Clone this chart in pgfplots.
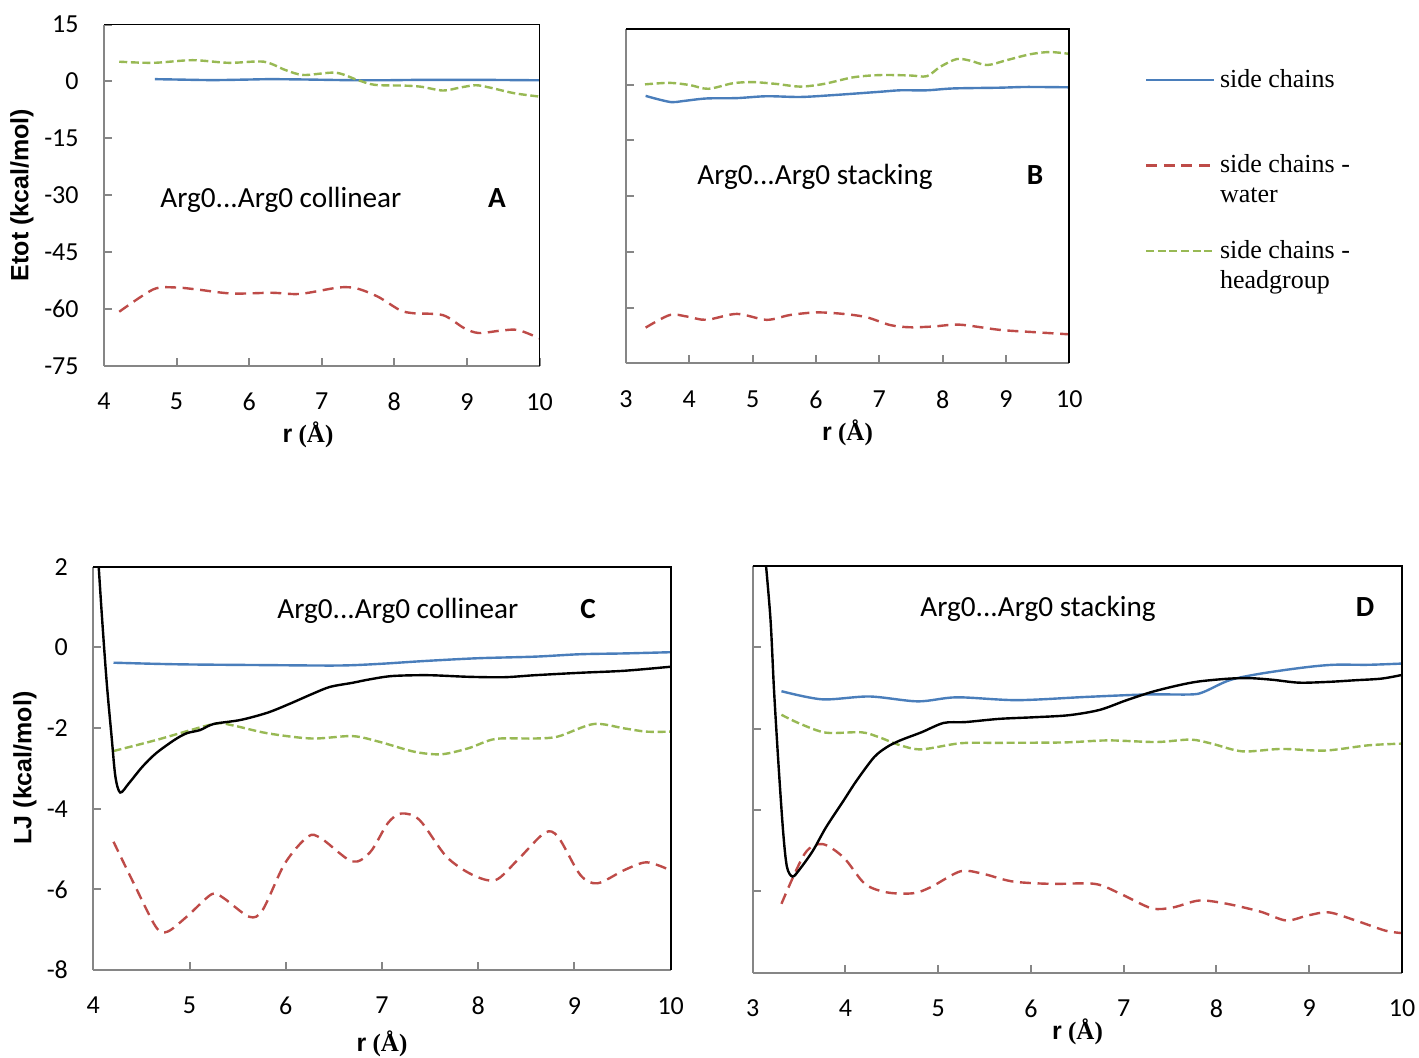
\documentclass[border=0pt]{standalone}
\usepackage{pgfplots}
\pgfplotsset{compat=1.18}
\usepackage{fontspec}
\setmainfont{Liberation Serif}
\newfontfamily\calibri{Carlito}
\newfontfamily\arial{Liberation Sans}
\definecolor{cblue}{HTML}{4A7EBB}
\definecolor{cred}{HTML}{BE4B48}
\definecolor{cgreen}{HTML}{98B954}
\definecolor{cgray}{HTML}{868686}

\pgfplotsset{
  panel/.style={
    scale only axis,
    anchor=south west,
    axis x line*=bottom,
    axis y line*=left,
    axis line style={cgray, line width=1.0pt},
    tick style={cgray, line width=1pt},
    tick align=inside,
    major tick length=4pt,
    xmax=10,
    clip mode=individual,
    tick label style={font=\calibri\fontsize{13}{15}\selectfont, inner sep=0pt},
    /pgf/number format/assume math mode=true,
    xticklabel style={anchor=north, yshift=-13.4pt},
    yticklabel style={anchor=east, xshift=-12.5pt},
    every axis plot/.append style={line width=1.2pt, smooth},
    after end axis/.code={\draw[black, line width=0.9pt] (rel axis cs:0,1) -- (rel axis cs:1,1) -- (rel axis cs:1,0);},
  },
  sc/.style={cblue, solid},
  scw/.style={cred, dash pattern=on 5.5pt off 3.3pt},
  sch/.style={cgreen, dash pattern=on 4pt off 1.8pt},
  lj/.style={black, solid},
}
\newcommand{\rA}{{\arial\bfseries r} {\bfseries (Å)}}
\newcommand{\ann}{\calibri\fontsize{14.6}{17}\selectfont}
\newcommand{\annb}{\calibri\bfseries\fontsize{14.6}{17}\selectfont}
\newcommand{\lab}{\arial\bfseries\fontsize{12.5}{15}\selectfont}

\begin{document}
\begin{tikzpicture}
\useasboundingbox (0,0) rectangle (709.5pt,528.5pt);

% ---------------- Panel A ----------------
\begin{axis}[panel, at={(52pt,345.5pt)}, width=217.75pt, height=170.75pt,
  xmin=4, xtick={4,5,...,10}, ymin=-75, ymax=15, ytick={-75,-60,...,15}]
\addplot[sc] coordinates {(4.7,0.6) (5.0,0.5) (5.5,0.35) (6.0,0.5) (6.3,0.6) (6.8,0.5) (7.3,0.35) (7.8,0.3) (8.3,0.4) (8.8,0.4) (9.3,0.4) (10,0.3)};
\addplot[scw] coordinates {(4.21,-60.7) (4.68,-54.8) (4.98,-54.3) (5.27,-54.8) (5.76,-55.9) (6.31,-55.7) (6.70,-56.0) (7.24,-54.3) (7.49,-54.6) (7.78,-56.8) (8.08,-60.3) (8.27,-61.1) (8.67,-61.6) (8.96,-65.0) (9.16,-66.3) (9.46,-65.7) (9.70,-65.5) (10,-67.7)};
\addplot[sch] coordinates {(4.21,5.2) (4.68,4.9) (5.22,5.6) (5.72,4.9) (6.2,5.2) (6.5,3.0) (6.75,1.7) (7.19,2.3) (7.49,0.4) (7.73,-0.9) (8.13,-1.1) (8.37,-1.4) (8.67,-2.4) (8.91,-1.6) (9.12,-1.0) (9.31,-1.6) (9.65,-3.1) (10,-4.0)};
\end{axis}

% ---------------- Panel B ----------------
\begin{axis}[panel, at={(313pt,346.85pt)}, width=221.65pt, height=167.15pt,
  xmin=3, xtick={3,4,...,10}, ymin=-75, ymax=15, ytick={-75,-60,...,15},
  yticklabels={{},{},{},{},{},{},{}},
  legend style={at={(1.1708,0.9013)}, anchor=north west, draw=none, fill=none,
    inner sep=0pt, outer sep=0pt, row sep={42.75pt,between origins}, column sep=0.3pt,
    cells={anchor=base west, inner sep=0pt},
    font=\rmfamily\fontsize{13}{15}\selectfont},
  legend image code/.code={\draw[#1] (0pt,3.5pt) -- (34pt,3.5pt);}]
\addplot[sc] coordinates {(3.31,-3.0) (3.48,-3.8) (3.72,-4.7) (3.90,-4.4) (4.27,-3.7) (4.75,-3.6) (5.22,-3.1) (5.75,-3.3) (6.27,-2.8) (7.01,-1.9) (7.33,-1.5) (7.75,-1.5) (8.17,-1.0) (8.90,-0.8) (9.33,-0.6) (10,-0.7)};
\addlegendentry{\begin{tabular}[t]{@{}l@{}}side chains\end{tabular}}
\addplot[scw] coordinates {(3.31,-65.4) (3.69,-62.0) (3.96,-62.4) (4.27,-63.3) (4.75,-61.7) (5.22,-63.3) (5.59,-62.0) (6.01,-61.3) (6.43,-61.7) (6.80,-62.6) (7.17,-64.7) (7.48,-65.3) (7.85,-65.1) (8.27,-64.6) (8.90,-66.0) (9.43,-66.6) (10,-67.2)};
\addlegendentry{\begin{tabular}[t]{@{}l@{}}side chains -\\water\end{tabular}}
\addplot[sch] coordinates {(3.30,0.1) (3.69,0.5) (4.01,-0.1) (4.30,-1.1) (4.69,0.4) (5.01,0.7) (5.38,0.2) (5.75,-0.5) (6.12,0.2) (6.59,2.0) (7.01,2.6) (7.48,2.5) (7.75,2.3) (7.96,4.8) (8.22,6.9) (8.43,6.5) (8.70,5.3) (9.01,6.6) (9.38,8.2) (9.69,8.8) (10,8.3)};
\addlegendentry{\begin{tabular}[t]{@{}l@{}}side chains -\\headgroup\end{tabular}}
\end{axis}

% ---------------- Panel C ----------------
\begin{axis}[panel, at={(46.65pt,43.5pt)}, width=288.7pt, height=201.65pt,
  xmin=4, xtick={4,5,...,10}, ymin=-8, ymax=2, ytick={-8,-6,...,2}]
\addplot[sc] coordinates {(4.21,-0.38) (4.88,-0.42) (5.81,-0.44) (6.55,-0.45) (6.97,-0.41) (7.43,-0.34) (7.99,-0.27) (8.59,-0.23) (9.06,-0.17) (9.52,-0.15) (10,-0.12)};
\addplot[scw] coordinates {(4.21,-4.82) (4.42,-5.85) (4.65,-6.93) (4.77,-7.05) (4.97,-6.68) (5.23,-6.12) (5.35,-6.21) (5.62,-6.68) (5.76,-6.51) (5.99,-5.36) (6.23,-4.69) (6.37,-4.74) (6.69,-5.31) (6.88,-5.07) (7.06,-4.36) (7.20,-4.12) (7.39,-4.28) (7.67,-5.19) (7.94,-5.64) (8.18,-5.77) (8.41,-5.27) (8.69,-4.60) (8.83,-4.70) (9.06,-5.64) (9.24,-5.85) (9.52,-5.52) (9.75,-5.33) (9.99,-5.52)};
\addplot[sch] coordinates {(4.21,-2.57) (4.65,-2.30) (5.25,-1.90) (5.44,-1.93) (5.81,-2.13) (6.27,-2.26) (6.69,-2.20) (6.97,-2.34) (7.34,-2.59) (7.62,-2.65) (7.90,-2.50) (8.18,-2.27) (8.59,-2.26) (8.83,-2.21) (9.20,-1.90) (9.52,-2.01) (9.75,-2.09) (10,-2.09)};
\addplot[lj] coordinates {(4.04,2.6) (4.09,0.76) (4.14,-0.89) (4.19,-2.21) (4.23,-3.21) (4.28,-3.60) (4.37,-3.37) (4.51,-2.96) (4.65,-2.63) (4.84,-2.30) (4.97,-2.13) (5.11,-2.05) (5.25,-1.90) (5.53,-1.80) (5.81,-1.62) (6.04,-1.40) (6.27,-1.16) (6.46,-0.98) (6.69,-0.88) (6.88,-0.79) (7.11,-0.71) (7.48,-0.69) (7.90,-0.73) (8.27,-0.74) (8.59,-0.69) (9.06,-0.63) (9.52,-0.58) (10,-0.48)};
\end{axis}

% ---------------- Panel D ----------------
\begin{axis}[panel, at={(376.35pt,42.25pt)}, width=324.65pt, height=203.25pt,
  xmin=3, xtick={3,4,...,10}, ymin=-8, ymax=2, ytick={-8,-6,...,2},
  yticklabels={{},{},{},{},{},{}}]
\addplot[sc] coordinates {(3.31,-1.08) (3.75,-1.28) (4.26,-1.21) (4.78,-1.33) (5.20,-1.23) (5.85,-1.30) (6.60,-1.22) (7.25,-1.16) (7.72,-1.16) (7.86,-1.10) (8.14,-0.81) (8.47,-0.65) (8.93,-0.50) (9.26,-0.43) (9.64,-0.43) (10,-0.40)};
\addplot[scw] coordinates {(3.31,-6.31) (3.56,-5.08) (3.75,-4.84) (3.98,-5.17) (4.21,-5.82) (4.45,-6.03) (4.73,-6.05) (4.92,-5.90) (5.24,-5.51) (5.48,-5.57) (5.80,-5.76) (6.22,-5.82) (6.69,-5.82) (6.97,-6.07) (7.30,-6.42) (7.53,-6.40) (7.81,-6.23) (8.09,-6.30) (8.47,-6.50) (8.75,-6.72) (8.98,-6.60) (9.21,-6.52) (9.50,-6.72) (9.82,-6.97) (10,-7.03)};
\addplot[sch] coordinates {(3.31,-1.66) (3.51,-1.88) (3.79,-2.10) (4.17,-2.09) (4.36,-2.21) (4.59,-2.41) (4.82,-2.51) (5.24,-2.36) (5.66,-2.35) (6.36,-2.34) (6.83,-2.29) (7.35,-2.33) (7.72,-2.27) (7.95,-2.37) (8.28,-2.56) (8.70,-2.50) (9.17,-2.54) (9.64,-2.41) (10,-2.37)};
\addplot[lj] coordinates {(3.12,2.6) (3.19,0.75) (3.23,-1.06) (3.28,-2.95) (3.33,-4.59) (3.37,-5.41) (3.43,-5.64) (3.51,-5.45) (3.65,-5.00) (3.79,-4.43) (3.98,-3.77) (4.12,-3.28) (4.31,-2.70) (4.45,-2.45) (4.59,-2.29) (4.82,-2.09) (5.06,-1.86) (5.29,-1.84) (5.66,-1.76) (6.04,-1.72) (6.41,-1.67) (6.74,-1.54) (7.02,-1.31) (7.30,-1.10) (7.58,-0.94) (7.81,-0.84) (8.14,-0.77) (8.37,-0.76) (8.61,-0.80) (8.89,-0.87) (9.21,-0.85) (9.50,-0.81) (9.78,-0.77) (10,-0.68)};
\end{axis}

% ---------------- Labels ----------------
\node[rotate=90, font=\lab] at (11pt,431pt) {Etot (kcal/mol)};
\node[rotate=90, font=\lab] at (12.5pt,144.5pt) {LJ (kcal/mol)};
\node[font=\fontsize{12.5}{15}\selectfont] at (154pt,311pt) {\rA};
\node[font=\fontsize{12.5}{15}\selectfont] at (423.75pt,312pt) {\rA};
\node[font=\fontsize{12.5}{15}\selectfont] at (191pt,6.5pt) {\rA};
\node[font=\fontsize{12.5}{15}\selectfont] at (538.75pt,12.5pt) {\rA};

\node[anchor=base west, inner sep=0pt, font=\ann] at (80pt,424.85pt) {Arg0...Arg0 collinear};
\node[anchor=base, inner sep=0pt, font=\annb] at (248.5pt,424.85pt) {A};
\node[anchor=base west, inner sep=0pt, font=\ann] at (348.5pt,436pt) {Arg0...Arg0 stacking};
\node[anchor=base, inner sep=0pt, font=\annb] at (517.5pt,436pt) {B};
\node[anchor=base west, inner sep=0pt, font=\ann] at (138.5pt,219.35pt) {Arg0...Arg0 collinear};
\node[anchor=base, inner sep=0pt, font=\annb] at (294pt,219.35pt) {C};
\node[anchor=base west, inner sep=0pt, font=\ann] at (460pt,220.15pt) {Arg0...Arg0 stacking};
\node[anchor=base, inner sep=0pt, font=\annb] at (682.5pt,220.15pt) {D};
\end{tikzpicture}
\end{document}
